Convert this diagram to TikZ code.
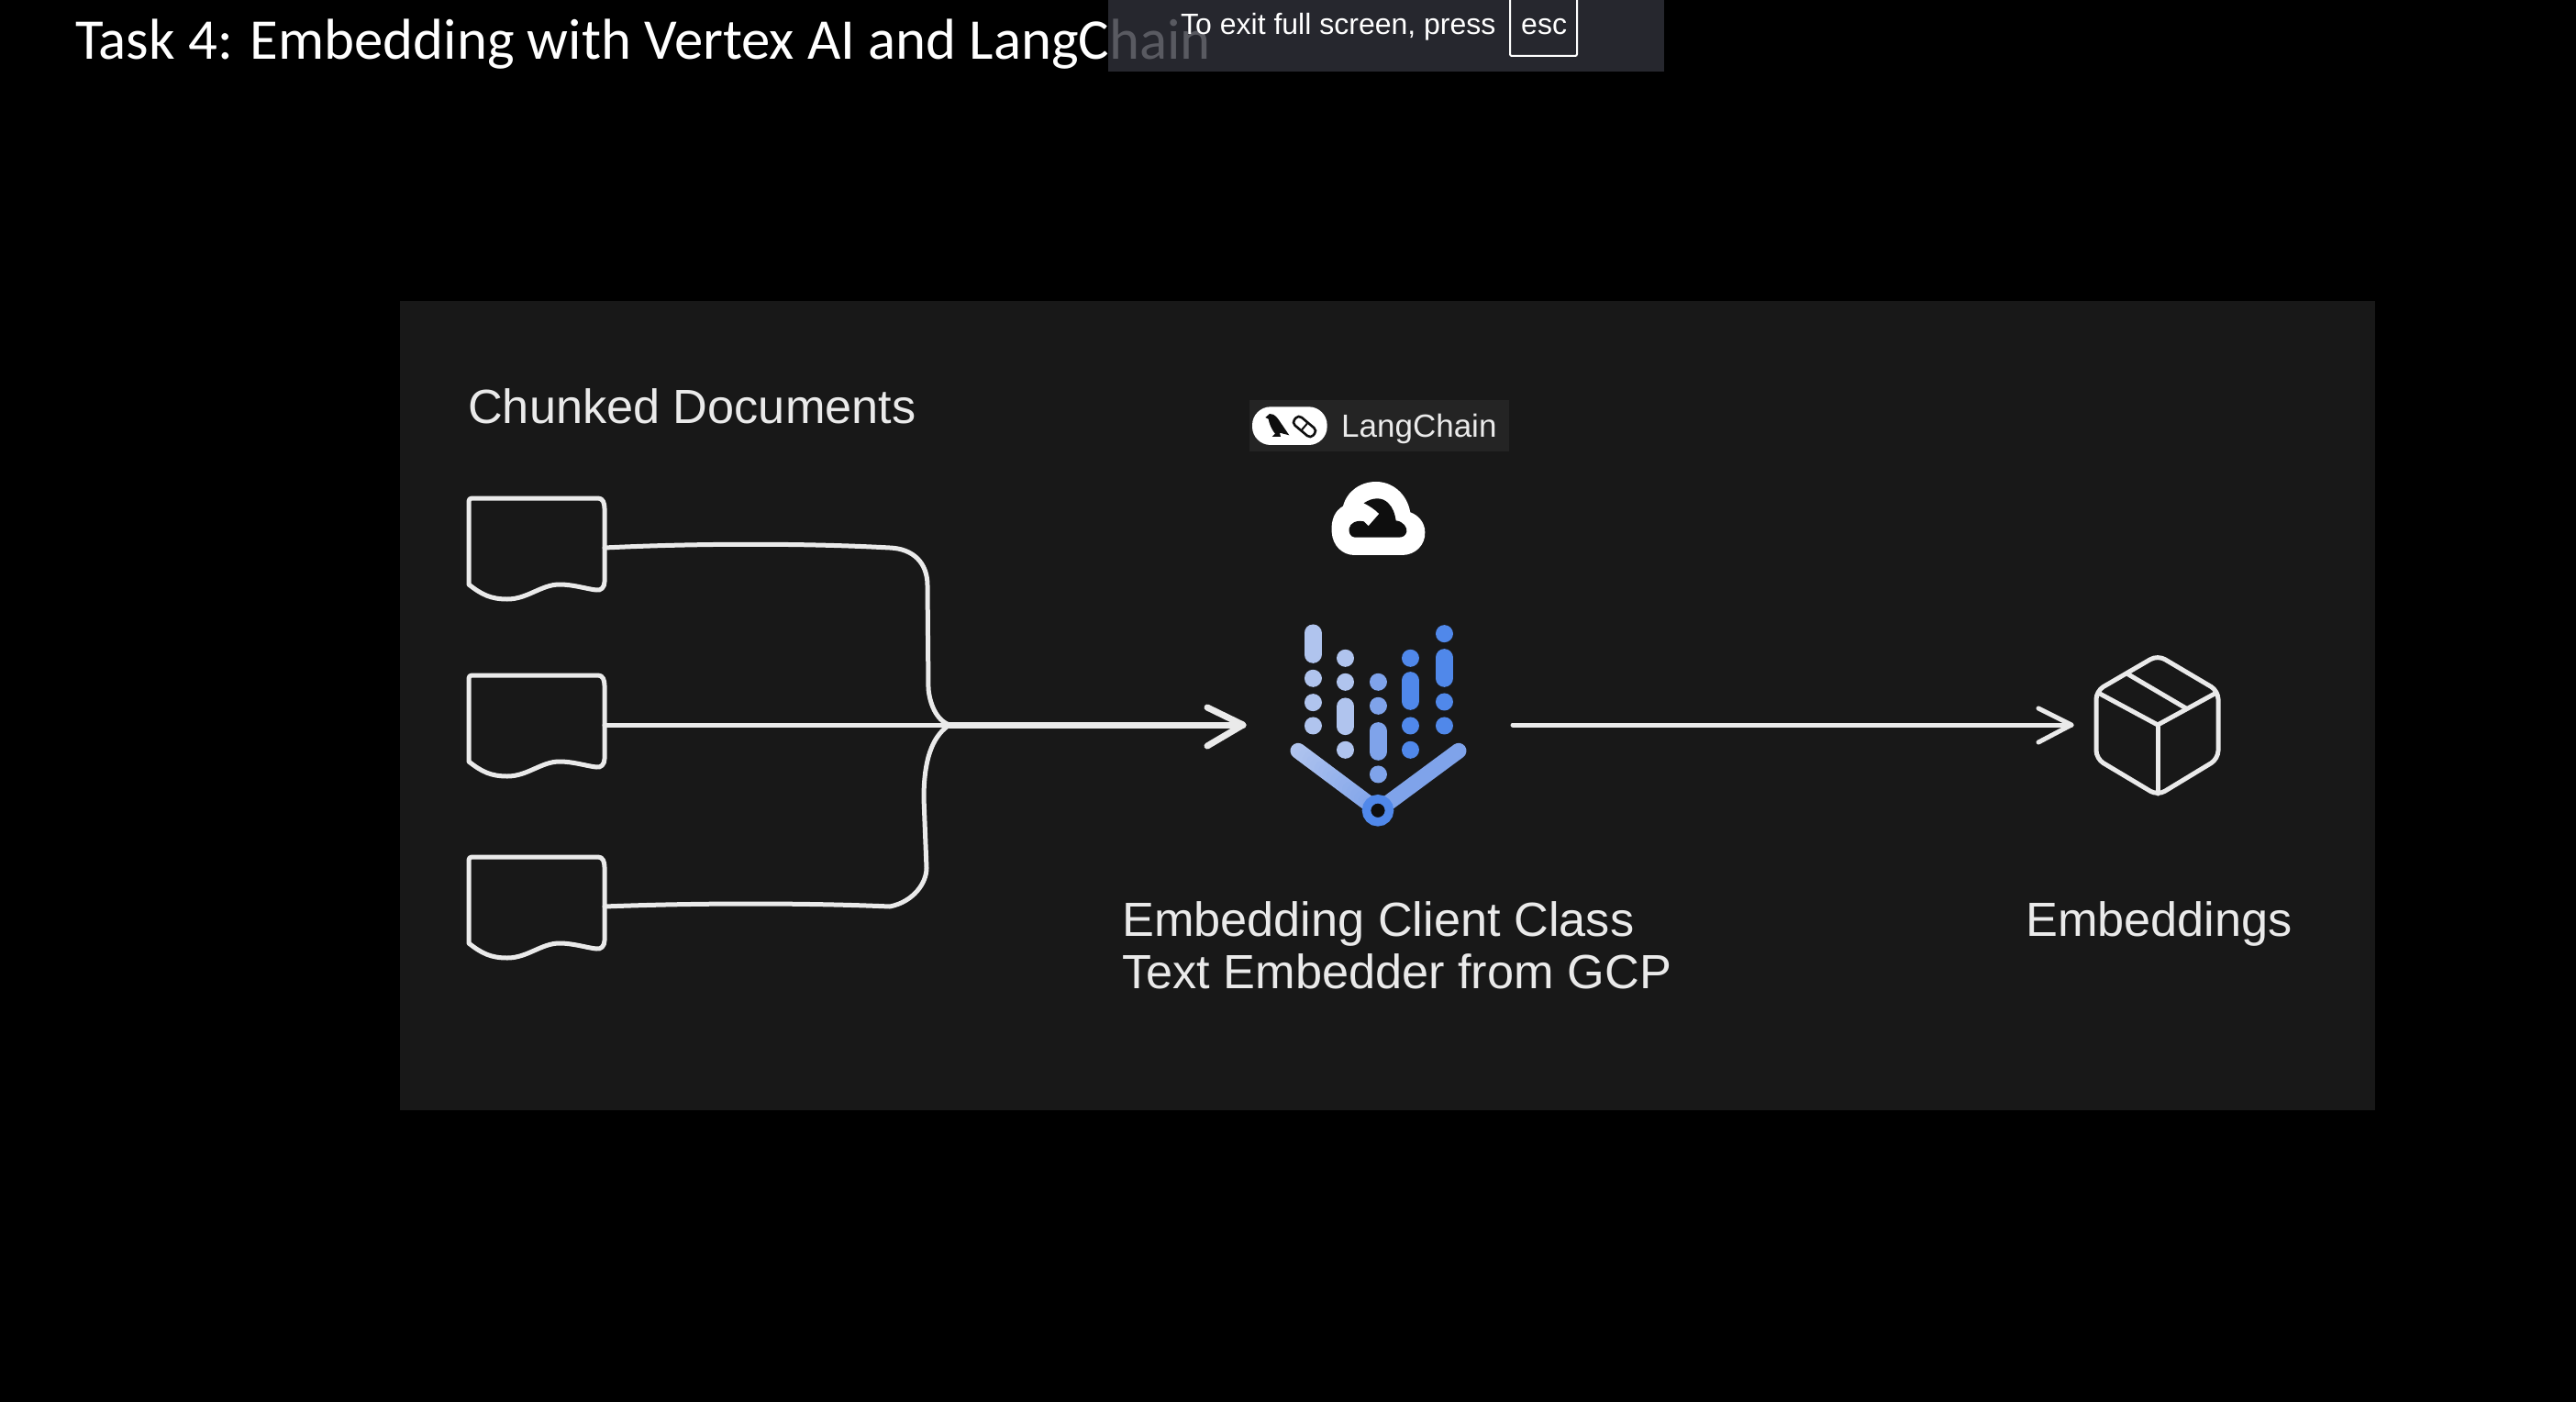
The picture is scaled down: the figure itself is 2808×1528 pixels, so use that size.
\documentclass[tikz,border=0pt]{standalone}
\usepackage{fontspec}
\setmainfont{Liberation Sans}
\newfontfamily\titlefont{Carlito}
\usetikzlibrary{calc}
\definecolor{panelc}{HTML}{181818}
\definecolor{inkc}{HTML}{EAEAEA}
\definecolor{barc}{HTML}{30313A}
\definecolor{badgec}{HTML}{242424}
\definecolor{lightb}{HTML}{B0C4EE}
\definecolor{midb}{HTML}{7FA3EA}
\definecolor{deepb}{HTML}{5088EA}
\tikzset{
  inkline/.style={draw=inkc,line width=5pt,line cap=round,line join=round},
  label/.style={text=inkc,anchor=base west,inner sep=0pt,font=\fontsize{52.3}{60}\selectfont},
  headline/.style={inkline,line width=7pt},
  dotcol/.style={line width=19pt,line cap=round},
}
\newcommand{\docpath}{(511,637) -- (511,548) .. controls (511,544) and (512,543) .. (516,543) -- (652,543) .. controls (657,543) and (659,548) .. (659,554) -- (659,634) .. controls (659,640) and (655,644) .. (650,643) .. controls (640,642) and (625,637) .. (610,637) .. controls (590,637) and (575,653) .. (553,653) .. controls (535,653) and (525,648) .. (511,637) -- cycle}
\begin{document}
\begin{tikzpicture}[x=1pt,y=-1pt]
\useasboundingbox (0,0) rectangle (2808,1528);
\fill[black] (0,0) rectangle (2808,1528);
% title
\node[anchor=base west,inner sep=0pt,text=white,font=\titlefont\fontsize{62.8}{70}\selectfont] (title) at (82,64) {Task 4: Embedding with Vertex AI and LangChain};
% full-screen bar
\fill[barc,opacity=0.8] (1208,0) rectangle (1814,78);
\node[anchor=base west,inner sep=0pt,text=white,font=\fontsize{32}{36}\selectfont] (exit) at (1287,38) {To exit full screen, press};
\draw[white,line width=2pt,rounded corners=2pt] (1646,-6) rectangle (1719,61);
\node[anchor=base west,inner sep=0pt,text=white,font=\fontsize{32}{36}\selectfont] (esc) at (1658,38) {esc};
% panel
\fill[panelc] (436,328) rectangle (2589,1210);
\node[label] (chunk) at (510,461) {Chunked Documents};
% docs
\draw[inkline] \docpath;
\begin{scope}[shift={(0,193)}]\draw[inkline] \docpath;\end{scope}
\begin{scope}[shift={(0,391)}]\draw[inkline] \docpath;\end{scope}
\coordinate (d1) at (659,597);
\coordinate (d2) at (659,790);
\coordinate (d3) at (659,988);
\coordinate (merge) at (1035,790);
\coordinate (vin) at (1355,790);
\coordinate (vout) at (1649,790);
\coordinate (boxin) at (2258,790);
% connectors
\draw[inkline] (d1) .. controls (760,592) and (880,592) .. (970,597) .. controls (995,598) and (1011,613) .. (1011,638) -- (1012,750) .. controls (1013,765) and (1020,785) .. (merge);
\draw[inkline] (d3) .. controls (760,984) and (880,984) .. (970,988) .. controls (995,983) and (1010,963) .. (1010,946) -- (1007,870) .. controls (1007,820) and (1020,800) .. (merge);
\draw[inkline] (d2) -- (merge);
\draw[headline] (merge) -- (vin);
\draw[headline] (1316,771) -- (vin) -- (1316,813);
\draw[inkline] (vout) -- (boxin);
\draw[inkline] (2222,772) -- (boxin) -- (2222,809);
% badge
\fill[badgec] (1362,436) rectangle (1645,492);
\node[anchor=base west,inner sep=0pt,text=inkc,font=\fontsize{35}{40}\selectfont] (lc) at (1462,476) {LangChain};
\begin{scope}[shift={(1340,420)},x=0.3333pt,y=-0.3333pt]
  % pill
  \fill[white,rounded corners=20pt] (75,70) rectangle (320,195);
  % bird
  \fill[panelc!60!black] (118,105) -- (132,93) .. controls (150,92) and (160,110) .. (170,125) -- (196,163) -- (165,155) -- (168,168) -- (140,168) -- (150,158) .. controls (135,140) and (130,120) .. (128,110) -- cycle;
  % chain
  \begin{scope}[rotate around={-40:(246,135)}]
    \draw[panelc!60!black,line width=2.6pt,rounded corners=4.5pt] (206,118) rectangle (286,152);
    \draw[panelc!60!black,line width=2pt] (246,118) -- (246,152);
  \end{scope}
  % cloud
  \fill[white] (410,555) -- (565,555) .. controls (610,555) and (642,520) .. (640,480) .. controls (640,450) and (620,425) .. (592,415) .. controls (580,350) and (530,315) .. (480,315) .. controls (430,315) and (385,345) .. (372,395) .. controls (345,410) and (332,440) .. (335,480) .. controls (338,525) and (370,555) .. (410,555) -- cycle;
  \fill[panelc!60!black] (440,385) .. controls (470,365) and (500,365) .. (520,385) .. controls (535,400) and (542,420) .. (545,442) .. controls (570,445) and (582,465) .. (580,478) .. controls (578,490) and (568,497) .. (555,497) -- (410,497) .. controls (395,495) and (390,480) .. (392,468) .. controls (395,450) and (415,440) .. (440,445) -- (455,460) -- (490,420) .. controls (475,405) and (460,395) .. (440,385) -- cycle;
  % column dots
  \begin{scope}[dotcol,draw=lightb]
    \draw (273,810) -- (273,880);
    \foreach \yy in {958,1037,1113} {\draw (273,\yy) -- (273,\yy.01);}
    \draw (380,1050) -- (380,1115);
    \foreach \yy in {892,970,1192} {\draw (380,\yy) -- (380,\yy.01);}
  \end{scope}
  \begin{scope}[dotcol,draw=midb]
    \draw (486,1130) -- (486,1198);
    \foreach \yy in {970,1048,1272} {\draw (486,\yy) -- (486,\yy.01);}
  \end{scope}
  \begin{scope}[dotcol,draw=deepb]
    \draw (592,965) -- (592,1033);
    \foreach \yy in {892,1113,1192} {\draw (592,\yy) -- (592,\yy.01);}
    \draw (703,890) -- (703,958);
    \foreach \yy in {812,1035,1113} {\draw (703,\yy) -- (703,\yy.01);}
  \end{scope}
  % V
  \foreach \p in {0,5,...,100} {
    \pgfmathsetmacro{\q}{100-\p}
    \draw[lightb!\q!midb,line width=17pt,line cap=round] ($(225,1195)!\p/100!(486,1390)$) -- ($(225,1195)!{(\p+4)/100}!(486,1390)$);
  }
  \draw[midb,line width=17pt,line cap=round] (750,1195) -- (486,1390);
  \node[circle,draw=deepb,fill=panelc!60!black,line width=9.5pt,minimum size=25pt,inner sep=0pt] (vnode) at (486,1390) {};
\end{scope}
% texts
\node[label] (t1) at (1223,1020) {Embedding Client Class};
\node[label] (t2) at (1223,1077) {Text Embedder from GCP};
\node[label] (t3) at (2208,1020) {Embeddings};
% box
\begin{scope}[draw=inkc,line width=5pt,line join=round,line cap=round]
  \draw[rounded corners=9pt] (2352,714) -- (2418,753) -- (2418,827) -- (2352,867) -- (2285,827) -- (2285,753) -- cycle;
  \draw (2287,755) -- (2352,790) -- (2416,755);
  \draw (2352,790) -- (2352,865);
  \draw (2320,735) -- (2383,772);
\end{scope}
\end{tikzpicture}
\end{document}
